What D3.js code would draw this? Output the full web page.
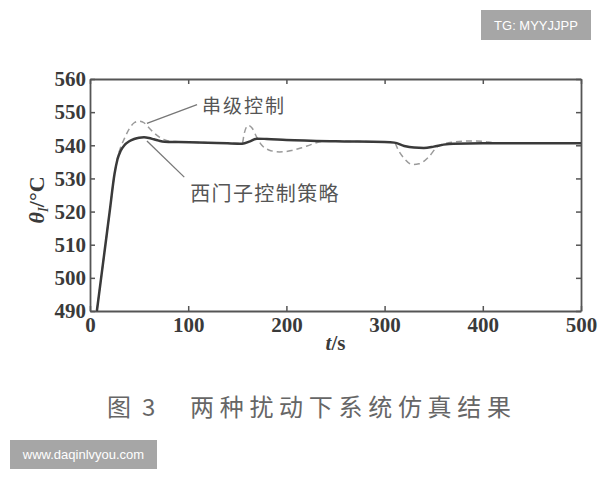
<!DOCTYPE html>
<html><head><meta charset="utf-8">
<script src="https://cdn.jsdelivr.net/npm/d3@7"></script>
<style>body{margin:0;background:#fff;}svg{display:block;}</style>
</head><body>
<script>
// ---- data ----
const xTicks = [0, 100, 200, 300, 400, 500];
const yTicks = [490, 500, 510, 520, 530, 540, 550, 560];
const siemensT = [7,10,15,20,25,28,31,35,40,45,50,55,60,65,70,76,90,120,140,155,163,170,180,200,250,300,310,320,330,340,350,360,370,400,500];
const siemensV = [490,496.9,508.4,519.9,531.4,535.8,538.2,540,541.2,541.9,542.3,542.4,542.2,541.8,541.4,541.1,541,540.8,540.6,540.5,541.2,542,541.9,541.6,541.2,541,540.8,539.8,539.3,539.2,539.6,540.2,540.5,540.6,540.6];
const cascadeT = [7,10,15,20,25,28,31,35,40,45,50,55,60,65,70,75,80,90,120,150,155,157,161,165,170,175,182,193,205,215,225,237,250,300,310,314,320,328,335,345,353,362,370,385,400,410,420,500];
const cascadeV = [490,496.9,508.4,519.9,531.4,536.2,539.2,542,545,546.8,547.3,546.8,545.3,543.8,542.6,541.8,541.3,541.1,540.8,540.6,540.5,543.5,546,545.2,542.3,540,538.6,538,538.4,539.2,540.2,541.2,541.2,541,540.8,538.5,536,534.2,534.4,536.5,539.4,540.6,541,541.3,541.2,540.8,540.6,540.6];
const seriesNames = ["西门子控制策略", "串级控制"];
const captionNo = ["图", "3"];
const captionText = "两种扰动下系统仿真结果";
const watermarkTop = "TG: MYYJJPP";
const watermarkBottom = "www.daqinlvyou.com";

// ---- layout ----
const W = 600, H = 480;
const m = {left: 90, right: 19, top: 79, bottom: 169};
const svg = d3.select("body").append("svg").attr("width", W).attr("height", H);
const x = d3.scaleLinear().domain([0, 500]).range([m.left, W - m.right]);
const y = d3.scaleLinear().domain([490, 560]).range([H - m.bottom, m.top]);

const serif = "'Liberation Serif','DejaVu Serif',serif";
const cjk = "'Noto Sans CJK SC','Noto Sans CJK JP',sans-serif";

function styleAxis(g, labels) {
  g.select(".domain").attr("stroke", "#555").attr("stroke-width", 1.8);
  g.selectAll(".tick line").attr("stroke", "#555").attr("stroke-width", 1.5);
  g.selectAll(".tick text").attr("font-family", serif).attr("font-size", 21)
    .attr("font-weight", "bold").attr("fill", "#3a3a3a");
  if (!labels) g.selectAll(".tick text").remove();
}

svg.append("g").attr("transform", `translate(0,${H - m.bottom})`)
  .call(d3.axisBottom(x).tickValues(xTicks).tickSizeInner(-5).tickSizeOuter(0).tickPadding(6))
  .call(g => styleAxis(g, true));
svg.append("g").attr("transform", `translate(0,${m.top})`)
  .call(d3.axisTop(x).tickValues(xTicks).tickSizeInner(-5).tickSizeOuter(0))
  .call(g => styleAxis(g, false));
svg.append("g").attr("transform", `translate(${m.left},0)`)
  .call(d3.axisLeft(y).tickValues(yTicks).tickSizeInner(-5).tickSizeOuter(0).tickPadding(4))
  .call(g => styleAxis(g, true));
svg.append("g").attr("transform", `translate(${W - m.right},0)`)
  .call(d3.axisRight(y).tickValues(yTicks).tickSizeInner(-5).tickSizeOuter(0))
  .call(g => styleAxis(g, false));

const line = d3.line().x(d => x(d[0])).y(d => y(d[1])).curve(d3.curveMonotoneX);
const cascade = d3.zip(cascadeT, cascadeV);
const siemens = d3.zip(siemensT, siemensV);

svg.append("path").datum(cascade).attr("d", line).attr("fill", "none")
  .attr("stroke", "#9a9a9a").attr("stroke-width", 1.5).attr("stroke-dasharray", "6,4");
svg.append("path").datum(siemens).attr("d", line).attr("fill", "none")
  .attr("stroke", "#3a3a3a").attr("stroke-width", 2.5);

// annotations
svg.append("line").attr("x1", x(58)).attr("y1", y(546.6)).attr("x2", x(109)).attr("y2", y(552.3))
  .attr("stroke", "#777").attr("stroke-width", 1.3);
svg.append("text").attr("x", x(114)).attr("y", y(549.7)).text(seriesNames[1])
  .attr("font-family", cjk).attr("font-size", 19).attr("letter-spacing", 2).attr("fill", "#555");
svg.append("line").attr("x1", x(58)).attr("y1", y(541.3)).attr("x2", x(96)).attr("y2", y(530.4))
  .attr("stroke", "#777").attr("stroke-width", 1.3);
svg.append("text").attr("x", x(102)).attr("y", y(523.3)).text(seriesNames[0])
  .attr("font-family", cjk).attr("font-size", 20).attr("letter-spacing", 1.4).attr("fill", "#555");

// axis titles
const yl = svg.append("text").attr("transform", "translate(44,200) rotate(-90)")
  .attr("text-anchor", "middle").attr("font-family", serif).attr("font-size", 22).attr("fill", "#3a3a3a");
yl.append("tspan").attr("font-style", "italic").attr("font-weight", "bold").text("θ");
yl.append("tspan").attr("font-style", "italic").attr("font-size", 15).attr("dy", 4).text("I");
yl.append("tspan").attr("dy", -4).attr("font-weight", "bold").text("/°C");

const xl = svg.append("text").attr("x", (x(0) + x(500)) / 2).attr("y", 350)
  .attr("text-anchor", "middle").attr("font-family", serif).attr("font-size", 21).attr("fill", "#3a3a3a").attr("font-weight", "bold");
xl.append("tspan").attr("font-style", "italic").text("t");
xl.append("tspan").text("/s");

// caption
svg.append("text").attr("x", 107).attr("y", 416).text(captionNo[0])
  .attr("font-family", cjk).attr("font-size", 24).attr("fill", "#666");
svg.append("text").attr("x", 142).attr("y", 416).text(captionNo[1])
  .attr("font-family", cjk).attr("font-size", 24).attr("fill", "#666");
svg.append("text").attr("x", 190).attr("y", 416).text(captionText)
  .attr("font-family", cjk).attr("font-size", 24).attr("letter-spacing", 5.7).attr("fill", "#666");

// watermarks
function badge(x0, y0, w, h, t) {
  svg.append("rect").attr("x", x0).attr("y", y0).attr("width", w).attr("height", h).attr("fill", "#a6a6a6");
  svg.append("text").attr("x", x0 + w / 2).attr("y", y0 + h / 2).attr("dy", "0.35em")
    .attr("text-anchor", "middle").attr("font-family", "'Liberation Sans','DejaVu Sans',sans-serif")
    .attr("font-size", 13).attr("fill", "#fff").text(t);
}
badge(481, 10, 110, 30, watermarkTop);
badge(10, 440, 147, 29, watermarkBottom);
</script>
</body></html>
